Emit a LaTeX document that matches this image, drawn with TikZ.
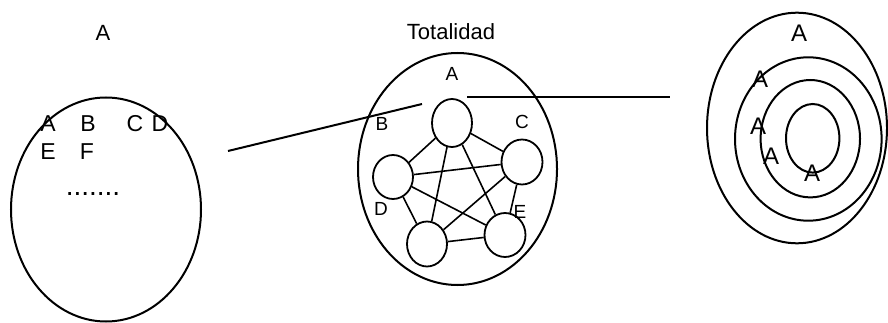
\documentclass[tikz,border=0pt]{standalone}
\usepackage{fontspec}
\setmainfont{Liberation Sans}
\usetikzlibrary{shapes.geometric}
\begin{document}
\begin{tikzpicture}[x=1pt,y=-1pt,
  ring/.style={line width=2pt},
  lbl/.style={inner sep=0pt,anchor=base},
  bigl/.style={lbl,font=\fontsize{23}{23}\selectfont},
  midl/.style={lbl,font=\fontsize{19}{19}\selectfont},
  rl/.style={lbl,font=\fontsize{24}{24}\selectfont},
  sm/.style={draw,ellipse,line width=1.8pt,inner sep=0pt},
  edge/.style={line width=1.6pt},
  link/.style={line width=2pt}]
\useasboundingbox (0,0) rectangle (888,323);
% left
\draw[ring] (106,209.5) ellipse [x radius=95,y radius=112];
\node[lbl,font=\fontsize{22}{22}\selectfont] (lA) at (103,41) {A};
\node[bigl] (lA2) at (48,131.5) {A};
\node[bigl] (lB) at (88,131.5) {B};
\node[bigl] (lC) at (135,131.5) {C};
\node[bigl] (lD) at (160,131.5) {D};
\node[bigl] (lE) at (48,159.5) {E};
\node[bigl] (lF) at (87,159.5) {F};
\node[lbl,font=\fontsize{28}{28}\selectfont] (dots) at (93,196) {.......};
% middle
\draw[ring] (457.5,169) ellipse [x radius=99.5,y radius=116];
\node[lbl,font=\fontsize{22}{22}\selectfont] (tot) at (451,39.3) {Totalidad};
\node[midl] (mA) at (452,81) {A};
\node[midl] (mB) at (382,130.7) {B};
\node[midl] (mC) at (522,128.3) {C};
\node[midl] (mD) at (381,215) {D};
\node[midl] (mE) at (520,218.3) {E};
\node[sm,minimum width=40pt,minimum height=48pt] (n1) at (452,123) {};
\node[sm,minimum width=41pt,minimum height=45pt] (n2) at (522,162) {};
\node[sm,minimum width=40pt,minimum height=44pt] (n3) at (393,177) {};
\node[sm,minimum width=40pt,minimum height=45pt] (n4) at (427,244) {};
\node[sm,minimum width=41pt,minimum height=44pt] (n5) at (505,235) {};
\foreach \a/\b in {n1/n2,n1/n3,n1/n4,n1/n5,n2/n3,n2/n4,n2/n5,n3/n4,n3/n5,n4/n5}
  \draw[edge] (\a) -- (\b);
% links
\coordinate (p1) at (228,151);
\coordinate (p2) at (422,104);
\coordinate (q1) at (467,97);
\coordinate (q2) at (670,97);
\draw[link] (p1) -- (p2);
\draw[link] (q1) -- (q2);
% right
\draw[ring] (797,128) ellipse [x radius=90,y radius=115.3];
\draw[ring] (808.3,139) ellipse [x radius=73.3,y radius=81.7];
\draw[ring] (810.3,138.7) ellipse [x radius=49.7,y radius=58.7];
\draw[ring] (812.7,138.3) ellipse [x radius=26.7,y radius=34.3];
\node[rl] (r1) at (799,41.7) {A};
\node[rl] (r2) at (760,87.3) {A};
\node[rl] (r3) at (758,135) {A};
\node[rl] (r4) at (771,165) {A};
\node[rl] (r5) at (812,181.7) {A};
\end{tikzpicture}
\end{document}
